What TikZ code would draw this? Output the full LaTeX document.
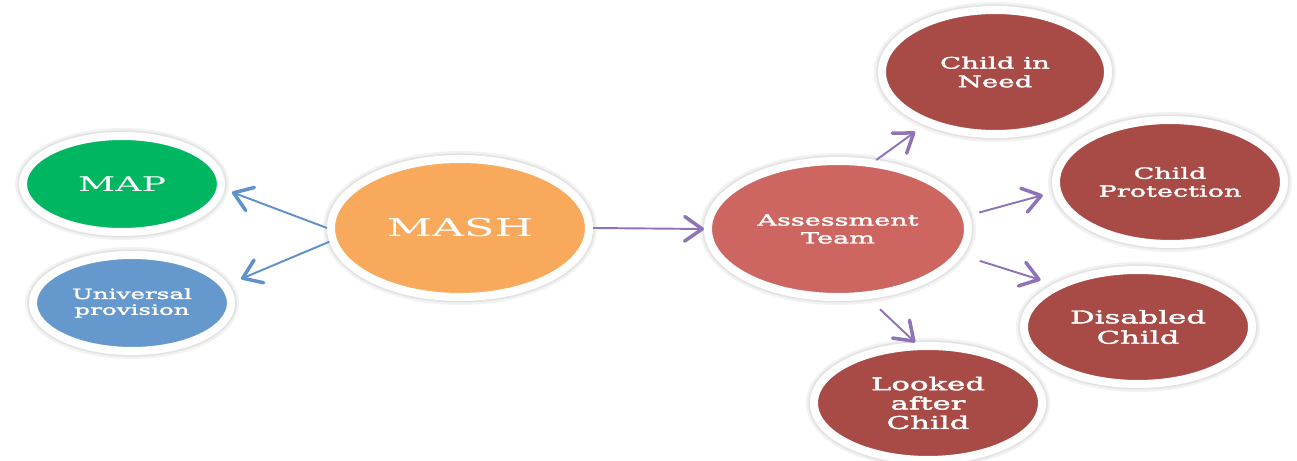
\documentclass[tikz,border=0pt]{standalone}
\usepackage{fontspec}
\setmainfont{DejaVu Serif}
\newfontfamily\widefont[FakeStretch=1.8]{DejaVu Serif}
\newfontfamily\smallfont[FakeStretch=1.75, FakeBold=2.2]{DejaVu Serif}
\usepackage{xcolor}
\usetikzlibrary{shapes.geometric, arrows.meta}

\definecolor{mapgreen}{RGB}{0,182,96}
\definecolor{provblue}{RGB}{101,152,204}
\definecolor{mashorange}{RGB}{249,169,91}
\definecolor{teamred}{RGB}{205,101,96}
\definecolor{outred}{RGB}{168,74,69}
\definecolor{arrowblue}{RGB}{95,145,205}
\definecolor{arrowpurple}{RGB}{143,115,185}

\begin{document}
\begin{tikzpicture}[
    bubble/.style={ellipse, draw=white, line width=0.16cm, text=white, align=center, inner sep=0pt,
        preaction={draw=black!5, line width=0.32cm},
        preaction={draw=black!11, line width=0.23cm}},
    small/.style={font=\smallfont\fontsize{8.8}{10.2}\selectfont},
    arrow/.style={-{Straight Barb[length=10pt, width=14pt, line width=2pt, round]}, line width=1.1pt},
]
\useasboundingbox (0,0) rectangle (25.94,-9.22);

% Left side
\node[bubble, fill=mapgreen, minimum width=3.96cm, minimum height=1.92cm,
      font=\widefont\fontsize{11.5}{13}\selectfont] (map) at (2.44,-3.68) {MAP};
\node[bubble, fill=provblue, minimum width=3.96cm, minimum height=1.92cm,
      font=\smallfont\fontsize{8}{9}\selectfont] (univ) at (2.64,-6.06) {Universal\\provision};

% Centre
\node[bubble, fill=mashorange, minimum width=5.16cm, minimum height=2.76cm,
      font=\widefont\fontsize{14}{16}\selectfont] (mash) at (9.2,-4.56) {MASH};
\node[bubble, fill=teamred, minimum width=5.2cm, minimum height=2.72cm, small] (assess) at (16.76,-4.58) {Assessment\\Team};

% Right side
\node[bubble, fill=outred, minimum width=4.52cm, minimum height=2.48cm,
      font=\smallfont\fontsize{9}{10.6}\selectfont] (need) at (19.9,-1.44) {Child in\\Need};
\node[bubble, fill=outred, minimum width=4.56cm, minimum height=2.48cm, small] (prot) at (23.4,-3.64) {Child\\Protection};
\node[bubble, fill=outred, minimum width=4.56cm, minimum height=2.28cm,
      font=\smallfont\fontsize{10}{11.6}\selectfont] (dis) at (22.76,-6.54) {Disabled\\Child};
\node[bubble, fill=outred, minimum width=4.56cm, minimum height=2.28cm,
      font=\smallfont\fontsize{10}{11}\selectfont] (looked) at (18.56,-8.06) {Looked\\after\\Child};

% Arrows
\draw[arrow, arrowblue, shorten >=0.16cm] (mash.180) -- (map.-3);
\draw[arrow, arrowblue, shorten >=0.28cm] (mash.186) -- (univ.11);
\draw[arrow, arrowpurple] (mash.0) -- (assess.180);
\draw[arrow, arrowpurple, shorten >=0.24cm] (assess.61) -- (need.217);
\draw[arrow, arrowpurple, shorten <=0.2cm, shorten >=0.22cm] (assess.6) -- (prot.185);
\draw[arrow, arrowpurple, shorten <=0.36cm, shorten >=0.28cm] (assess.-12) -- (dis.153);
\draw[arrow, arrowpurple, shorten <=0.3cm] (assess.-66) -- (looked.102);

\end{tikzpicture}
\end{document}
